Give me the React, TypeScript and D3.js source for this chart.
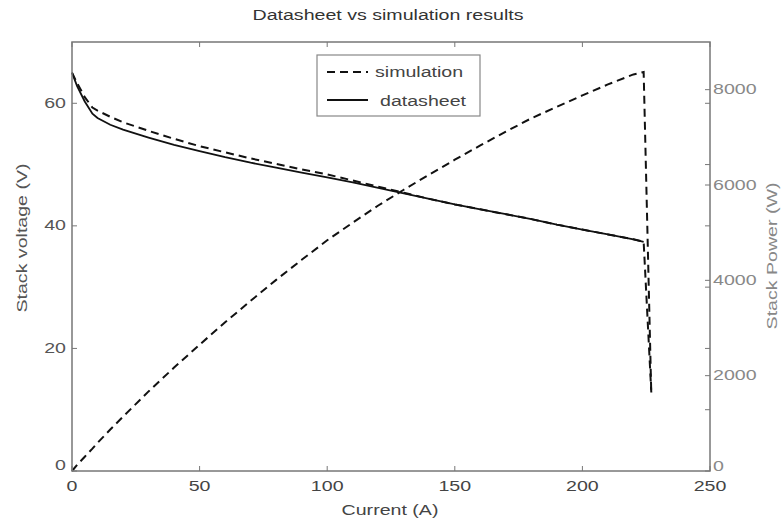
import React from "react";
import * as d3 from "d3";

// ---- data ----
const currentData = [0, 2, 5, 8, 10, 15, 20, 30, 40, 50, 60, 70, 80, 90, 100, 110, 120, 130, 140, 150, 160, 170, 180, 190, 200, 210, 220, 224];
const voltageDatasheet = [65, 62.8, 60.3, 58.3, 57.6, 56.5, 55.7, 54.4, 53.2, 52.2, 51.2, 50.3, 49.5, 48.7, 47.9, 47.1, 46.2, 45.3, 44.4, 43.5, 42.7, 41.9, 41.1, 40.2, 39.4, 38.6, 37.8, 37.4];
const currentSim = [0, 2, 5, 8, 10, 15, 20, 30, 40, 50, 60, 70, 80, 90, 100, 110, 120, 130, 140, 150, 160, 170, 180, 190, 200, 210, 220, 224, 227];
const voltageSim = [65, 63.3, 61, 59.3, 58.8, 57.8, 56.9, 55.5, 54.2, 53.0, 52.0, 51.0, 50.1, 49.2, 48.4, 47.4, 46.4, 45.4, 44.4, 43.5, 42.7, 41.9, 41.1, 40.2, 39.4, 38.6, 37.8, 37.4, 12.8];
const powerSim = [0, 130, 300, 470, 590, 870, 1140, 1670, 2170, 2650, 3120, 3570, 4010, 4430, 4840, 5210, 5570, 5900, 6220, 6530, 6830, 7120, 7400, 7640, 7880, 8110, 8320, 8370, 1600];

const xTicks = [0, 50, 100, 150, 200, 250];
const vTickLabels = [0, 20, 40, 60];
const vMirrorTicks = [10, 20, 30, 40, 50, 60];
const pTicks = [0, 2000, 4000, 6000, 8000];

const titleText = "Datasheet vs simulation results";
const xLabel = "Current (A)";
const yLeftLabel = "Stack voltage (V)";
const yRightLabel = "Stack Power (W)";
const legendSim = "simulation";
const legendData = "datasheet";

// ---- layout ----
const W = 784, H = 523;
const L = 72, R = 710, T = 42, B = 471;
const SX = 1.4;
const FONT = "'Liberation Sans', Arial, sans-serif";

const x = d3.scaleLinear().domain([0, 250]).range([L, R]);
const yV = d3.scaleLinear().domain([0, 70]).range([B, T]);
const yP = d3.scaleLinear().domain([0, 9000]).range([B, T]);

function Txt({ x, y, anchor = "middle", rot = 0, fill = "#333", size = 14, children }: any) {
  return (
    <g transform={`translate(${x},${y}) rotate(${rot}) scale(${SX},1)`}>
      <text textAnchor={anchor} dominantBaseline="central" fontFamily={FONT} fontSize={size} fill={fill}>
        {children}
      </text>
    </g>
  );
}

export default function App() {
  const lineV = d3.line<number>().x((_, i) => x(currentData[i])).y((d) => yV(d));
  const lineVS = d3.line<number>().x((_, i) => x(currentSim[i])).y((d) => yV(d));
  const lineP = d3.line<number>().x((_, i) => x(currentSim[i])).y((d) => yP(d));
  const axisCol = "#777";
  const tl = 5;
  return (
    <svg width={W} height={H} style={{ position: "absolute", left: 0, top: 0, background: "#fff" }}>
      <rect x={0} y={0} width={W} height={H} fill="#fff" />
      {/* title */}
      <Txt x={388} y={15} fill="#333">{titleText}</Txt>

      {/* curves */}
      <path d={lineV(voltageDatasheet) || ""} fill="none" stroke="#111" strokeWidth={1.8} />
      <path d={lineVS(voltageSim) || ""} fill="none" stroke="#111" strokeWidth={2} strokeDasharray="8 5" />
      <path d={lineP(powerSim) || ""} fill="none" stroke="#111" strokeWidth={2} strokeDasharray="8 5" />

      {/* box */}
      <rect x={L} y={T} width={R - L} height={B - T} fill="none" stroke={axisCol} strokeWidth={1.5} />

      {/* bottom / top ticks */}
      {xTicks.map((t) => (
        <g key={"x" + t}>
          <line x1={x(t)} x2={x(t)} y1={B} y2={B - tl} stroke={axisCol} />
          <line x1={x(t)} x2={x(t)} y1={T} y2={T + tl} stroke={axisCol} />
          <Txt x={x(t)} y={486} fill="#444">{t}</Txt>
        </g>
      ))}
      <Txt x={390} y={510} fill="#444">{xLabel}</Txt>

      {/* left axis */}
      {vTickLabels.map((t) => (
        <g key={"v" + t}>
          <line x1={L} x2={L + tl} y1={yV(t)} y2={yV(t)} stroke={axisCol} />
          <Txt x={L - 6} y={t === 0 ? yV(t) - 6 : yV(t)} anchor="end" fill="#555">{t}</Txt>
        </g>
      ))}
      {vMirrorTicks.map((t) => (
        <line key={"vm" + t} x1={R} x2={R - tl} y1={yV(t)} y2={yV(t)} stroke={axisCol} />
      ))}
      <Txt x={22} y={238} rot={-90} fill="#555">{yLeftLabel}</Txt>

      {/* right axis */}
      {pTicks.map((t) => (
        <g key={"p" + t}>
          <line x1={R} x2={R - tl} y1={yP(t)} y2={yP(t)} stroke={axisCol} />
          <Txt x={R + 3} y={t === 0 ? yP(t) - 5 : yP(t)} anchor="start" fill="#888">{t}</Txt>
        </g>
      ))}
      <Txt x={772} y={256} rot={-90} fill="#888">{yRightLabel}</Txt>

      {/* legend */}
      <rect x={317} y={55} width={163} height={61} fill="#fff" stroke="#888" strokeWidth={1.2} />
      <line x1={327} x2={368} y1={72} y2={72} stroke="#111" strokeWidth={2} strokeDasharray="8 5" />
      <line x1={327} x2={368} y1={100} y2={100} stroke="#111" strokeWidth={2} />
      <Txt x={375} y={72} anchor="start" fill="#444">{legendSim}</Txt>
      <Txt x={380} y={101} anchor="start" fill="#444">{legendData}</Txt>
    </svg>
  );
}
